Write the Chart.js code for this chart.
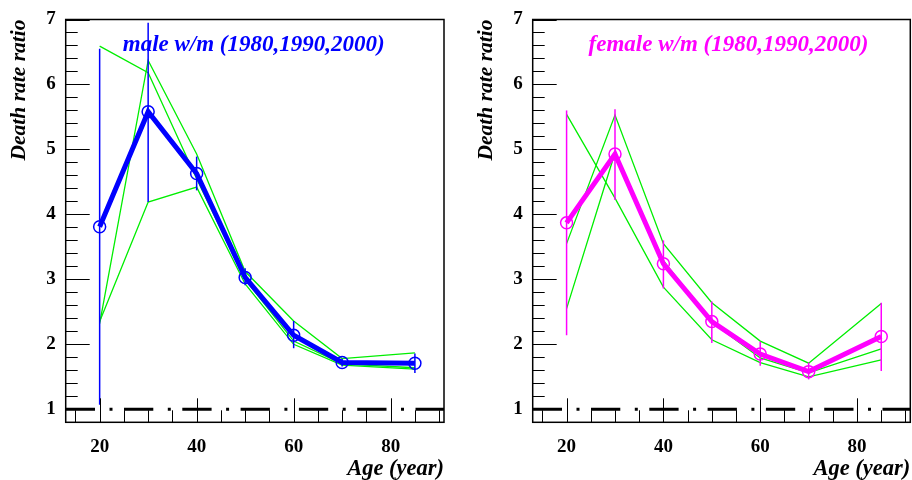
<!DOCTYPE html>
<html>
<head>
<meta charset="utf-8">
<script src="https://cdn.jsdelivr.net/npm/chart.js@4.4.1/dist/chart.umd.min.js"></script>
<style>
  body { margin: 0; background: #fff; overflow: hidden; }
  .panel { position: absolute; top: 0; width: 456px; height: 480px; }
  canvas { display: block; }
</style>
</head>
<body>
<div class="panel" style="left:0"><canvas id="male" width="456" height="480"></canvas></div>
<div class="panel" style="left:456px"><canvas id="female" width="456" height="480"></canvas></div>
<script>
// age groups
const ages = [20, 30, 40, 50, 60, 70, 85];

// male white/minority death rate ratio: mean over 1980, 1990, 2000
const maleMean = [3.81, 5.58, 4.63, 3.03, 2.14, 1.72, 1.71];
const maleErrHi = [6.55, 6.95, 4.89, 3.17, 2.36, 1.78, 1.86];
const maleErrLo = [1.07, 4.19, 4.37, 2.91, 1.94, 1.66, 1.56];
const male1980 = [6.59, 6.18, 4.55, 3.00, 2.05, 1.70, 1.64];
const male1990 = [2.32, 6.37, 4.93, 3.12, 2.36, 1.78, 1.87];
const male2000 = [2.35, 4.19, 4.42, 2.93, 2.00, 1.68, 1.62];

// female
const femaleMean = [3.87, 4.93, 3.24, 2.35, 1.85, 1.58, 2.12];
const femaleErrHi = [5.60, 5.62, 3.60, 2.66, 2.04, 1.72, 2.64];
const femaleErrLo = [2.14, 4.22, 2.86, 2.02, 1.67, 1.46, 1.59];
const female1980 = [5.54, 4.25, 2.88, 2.07, 1.72, 1.50, 1.76];
const female1990 = [3.55, 5.53, 3.55, 2.64, 2.05, 1.71, 2.63];
const female2000 = [2.55, 4.95, 3.29, 2.34, 1.79, 1.56, 1.93];

// reference line at ratio 1
const refAges = [13, 91];
const refRatio = [1, 1];

const xTicks = [20, 40, 60, 80];
const yTicks = [1, 2, 3, 4, 5, 6, 7];

const pts = ys => ages.map((a, i) => ({ x: a, y: ys[i] }));

// ROOT-like pad: inner ticks, error bars, title inside the frame
const rootPad = {
    id: "rootPad",
    afterDatasetsDraw(chart, args, opts) {
        const { ctx, scales: { x, y } } = chart;
        ctx.save();
        ctx.strokeStyle = opts.color;
        ctx.lineWidth = 1.5;
        ages.forEach((a, i) => {
            const px = x.getPixelForValue(a);
            ctx.beginPath();
            ctx.moveTo(px, y.getPixelForValue(opts.lo[i]));
            ctx.lineTo(px, y.getPixelForValue(opts.hi[i]));
            ctx.stroke();
        });
        ctx.restore();
    },
    afterDraw(chart, args, opts) {
        const { ctx, chartArea: a, scales: { x, y } } = chart;
        ctx.save();
        ctx.strokeStyle = "#000";
        ctx.lineWidth = 1;
        ctx.beginPath();
        for (let v = 5; v <= 35; v++) {
            const py = Math.round(y.getPixelForValue(v * 0.2)) + 0.5;
            const len = v % 5 === 0 ? 24 : 12;
            ctx.moveTo(a.left, py);
            ctx.lineTo(a.left + len, py);
        }
        for (let v = 15; v <= 90; v += 5) {
            const px = Math.round(x.getPixelForValue(v)) + 0.5;
            const len = v % 20 === 0 ? 24 : 12;
            ctx.moveTo(px, a.bottom);
            ctx.lineTo(px, a.bottom - len);
        }
        ctx.stroke();
        ctx.lineWidth = 1.5;
        ctx.strokeRect(a.left, a.top, a.right - a.left, a.bottom - a.top);

        ctx.fillStyle = opts.color;
        ctx.font = "italic bold 23px 'Liberation Serif'";
        ctx.textAlign = "center";
        ctx.textBaseline = "alphabetic";
        ctx.fillText(opts.title, a.left + (a.right - a.left) * opts.titlePos, 51);
        ctx.restore();
    }
};

function makeChart(id, cfg) {
    return new Chart(document.getElementById(id), {
        type: "line",
        data: {
            datasets: [
                { data: pts(cfg.mean), borderColor: cfg.color, borderWidth: 5,
                  pointRadius: 6, pointBorderWidth: 1.5, pointBorderColor: cfg.color,
                  pointBackgroundColor: "rgba(0,0,0,0)", order: 0 },
                ...cfg.years.map(ys => ({ data: pts(ys), borderColor: "#00ee00",
                  borderWidth: 1.3, pointRadius: 0, order: 1 })),
                { data: refAges.map((a, i) => ({ x: a, y: refRatio[i] })), borderColor: "#000",
                  borderWidth: 3, borderDash: [29.3, 14.5, 3, 11.5], pointRadius: 0, order: 2 }
            ]
        },
        options: {
            responsive: false,
            animation: false,
            layout: { autoPadding: false, padding: { left: 0, right: cfg.padRight, top: 19.5, bottom: 0 } },
            plugins: {
                legend: { display: false },
                tooltip: { enabled: false },
                rootPad: { color: cfg.color, lo: cfg.lo, hi: cfg.hi, title: cfg.title, titlePos: cfg.titlePos }
            },
            scales: {
                x: {
                    type: "linear", min: 13, max: 91,
                    grid: { display: false, drawTicks: false }, border: { display: false },
                    afterBuildTicks: s => { s.ticks = xTicks.map(v => ({ value: v })); },
                    afterFit: s => { s.height = 57.7; s.paddingLeft = 0; s.paddingRight = 0; },
                    ticks: { color: "#000", padding: 13, maxRotation: 0,
                             font: { family: "Liberation Serif", weight: "bold", size: 19 } },
                    title: { display: true, text: "Age (year)", align: "end", color: "#000",
                             padding: { top: 0, bottom: -3 },
                             font: { family: "Liberation Serif", style: "italic", weight: "bold", size: 22.5 } }
                },
                y: {
                    min: 0.8, max: 7,
                    grid: { display: false, drawTicks: false }, border: { display: false },
                    afterBuildTicks: s => { s.ticks = yTicks.map(v => ({ value: v })); },
                    afterFit: s => { s.width = cfg.yWidth; s.paddingTop = 0; s.paddingBottom = 0; },
                    ticks: { color: "#000", padding: 10,
                             font: { family: "Liberation Serif", weight: "bold", size: 19 } },
                    title: { display: true, text: "Death rate ratio", align: "end", color: "#000",
                             padding: { top: cfg.yTitlePad, bottom: 0 },
                             font: { family: "Liberation Serif", style: "italic", weight: "bold", size: 21.5 } }
                }
            }
        },
        plugins: [rootPad]
    });
}

makeChart("male", {
    mean: maleMean, lo: maleErrLo, hi: maleErrHi, years: [male1980, male1990, male2000],
    color: "#0000ff", title: "male w/m (1980,1990,2000)", titlePos: 0.497,
    padRight: 12, yWidth: 65.7, yTitlePad: 6.1
});
makeChart("female", {
    mean: femaleMean, lo: femaleErrLo, hi: femaleErrHi, years: [female1980, female1990, female2000],
    color: "#ff00ff", title: "female w/m (1980,1990,2000)", titlePos: 0.5185,
    padRight: 1.7, yWidth: 76.7, yTitlePad: 17.1
});
</script>
</body>
</html>
